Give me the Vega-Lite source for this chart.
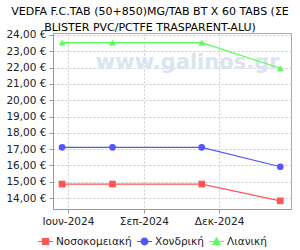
{
  "$schema": "https://vega.github.io/schema/vega-lite/v6.json",
  "width": 238,
  "height": 176,
  "autosize": {"type": "none"},
  "padding": {"left": 53, "top": 33, "right": 9, "bottom": 41},
  "background": "white",
  "title": {
    "text": ["VEDFA F.C.TAB (50+850)MG/TAB BT X 60 TABS (ΣΕ", "BLISTER PVC/PCTFE TRASPARENT-ALU)"],
    "font": "DejaVu Sans",
    "fontSize": 11,
    "fontWeight": "normal",
    "color": "#000000",
    "anchor": "middle",
    "dx": -22,
    "offset": -3,
    "lineHeight": 16
  },
  "config": {
    "view": {"stroke": "#aaaaaa", "strokeWidth": 1},
    "axis": {
      "labelFont": "DejaVu Sans",
      "labelFontSize": 10.5,
      "labelColor": "#222222",
      "domainColor": "#999999",
      "tickColor": "#999999",
      "tickSize": 4,
      "gridColor": "#cccccc",
      "gridDash": [2, 2],
      "title": null
    }
  },
  "data": {
    "values": [
      {"date": "2024-05-25", "series": "Νοσοκομειακή", "price": 14.86},
      {"date": "2024-07-25", "series": "Νοσοκομειακή", "price": 14.86},
      {"date": "2024-11-10", "series": "Νοσοκομειακή", "price": 14.86},
      {"date": "2025-02-13", "series": "Νοσοκομειακή", "price": 13.83},
      {"date": "2024-05-25", "series": "Χονδρική", "price": 17.11},
      {"date": "2024-07-25", "series": "Χονδρική", "price": 17.11},
      {"date": "2024-11-10", "series": "Χονδρική", "price": 17.11},
      {"date": "2025-02-13", "series": "Χονδρική", "price": 15.92},
      {"date": "2024-05-25", "series": "Λιανική", "price": 23.53},
      {"date": "2024-07-25", "series": "Λιανική", "price": 23.53},
      {"date": "2024-11-10", "series": "Λιανική", "price": 23.53},
      {"date": "2025-02-13", "series": "Λιανική", "price": 21.96}
    ]
  },
  "encoding": {
    "x": {
      "field": "date",
      "type": "temporal",
      "scale": {
        "type": "utc",
        "domain": [
          {"year": 2024, "month": 5, "date": 14, "utc": true},
          {"year": 2025, "month": 2, "date": 26, "utc": true}
        ]
      },
      "axis": {
        "values": [
          {"year": 2024, "month": 6, "date": 1, "utc": true},
          {"year": 2024, "month": 9, "date": 1, "utc": true},
          {"year": 2024, "month": 12, "date": 1, "utc": true}
        ],
        "labelExpr": "['Ιαν','Φεβ','Μαρ','Απρ','Μαϊ','Ιουν','Ιουλ','Αυγ','Σεπ','Οκτ','Νοε','Δεκ'][utcmonth(datum.value)] + '-' + utcyear(datum.value)",
        "labelPadding": 3
      }
    },
    "y": {
      "field": "price",
      "type": "quantitative",
      "scale": {"domain": [13.33, 24.12], "nice": false, "zero": false},
      "axis": {
        "values": [14, 15, 16, 17, 18, 19, 20, 21, 22, 23, 24],
        "labelExpr": "replace(format(datum.value, '.2f'), '.', ',') + ' €'",
        "labelPadding": 3
      }
    }
  },
  "layer": [
    {
      "data": {"values": [{"d": "2024-10-24", "v": 22.3, "t": "www.galinos.gr"}]},
      "mark": {"type": "text", "font": "DejaVu Sans", "fontSize": 21, "fontWeight": "bold", "color": "#dbe4f0"},
      "encoding": {
        "x": {"field": "d", "type": "temporal"},
        "y": {"field": "v", "type": "quantitative"},
        "text": {"field": "t"}
      }
    },
    {
      "mark": {"type": "line", "strokeWidth": 1.2},
      "encoding": {
        "color": {
          "field": "series",
          "type": "nominal",
          "scale": {
            "domain": ["Νοσοκομειακή", "Χονδρική", "Λιανική"],
            "range": ["#ff5555", "#5555ff", "#55ff55"]
          },
          "legend": {
            "orient": "none",
            "legendX": -16,
            "legendY": 200,
            "direction": "horizontal",
            "title": null,
            "labelFont": "DejaVu Sans",
            "labelFontSize": 10.5,
            "labelColor": "#222222",
            "symbolSize": 225,
            "symbolStrokeWidth": 1.2,
            "labelOffset": 2,
            "columnPadding": 2,
            "gridAlign": "none",
            "encode": {
              "symbols": {
                "update": {
                  "shape": {"signal": "datum.value === 'Νοσοκομειακή' ? 'M-1,0H1M-0.4,-0.4H0.4V0.4H-0.4Z' : datum.value === 'Χονδρική' ? 'M-1,0H1M0.45,0A0.45,0.45 0 1,1 -0.45,0A0.45,0.45 0 1,1 0.45,0Z' : 'M-1,0H1M0,-0.47L0.47,0.4H-0.47Z'"},
                  "fill": {"signal": "datum.value === 'Νοσοκομειακή' ? '#ff5555' : datum.value === 'Χονδρική' ? '#5555ff' : '#55ff55'"},
                  "stroke": {"signal": "datum.value === 'Νοσοκομειακή' ? '#ff5555' : datum.value === 'Χονδρική' ? '#5555ff' : '#55ff55'"},
                  "fillOpacity": {"value": 1},
                  "strokeOpacity": {"value": 1}
                }
              }
            }
          }
        }
      }
    },
    {
      "mark": {"type": "point", "filled": true, "opacity": 1},
      "encoding": {
        "color": {"field": "series", "type": "nominal", "legend": null},
        "shape": {
          "condition": [
            {"test": "datum.series === 'Νοσοκομειακή'", "value": "square"},
            {"test": "datum.series === 'Χονδρική'", "value": "circle"}
          ],
          "value": "triangle-up"
        },
        "size": {"value": 45}
      }
    }
  ]
}
